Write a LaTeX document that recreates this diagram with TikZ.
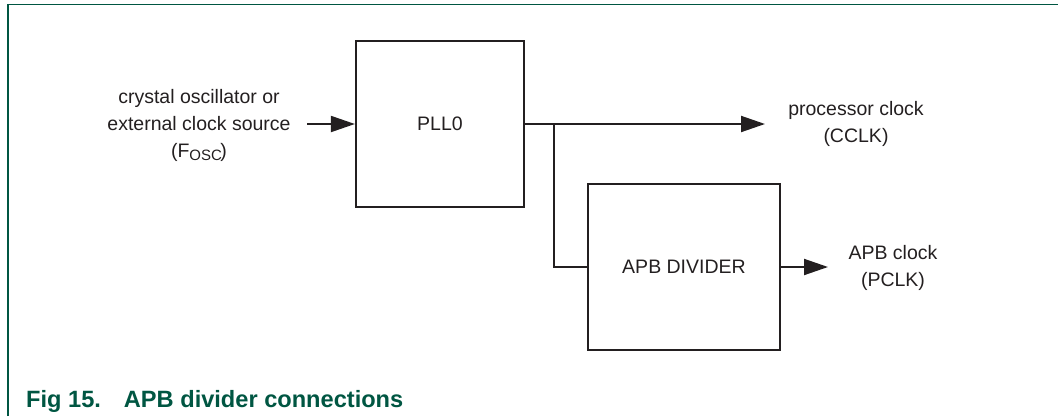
\documentclass[tikz,border=0pt]{standalone}
\usepackage{fontspec}
\setmainfont{Liberation Sans}
\usetikzlibrary{arrows.meta}
\definecolor{ink}{RGB}{35,31,32}
\definecolor{nxpgreen}{RGB}{0,86,66}
\tikzset{
  blockbox/.style={draw=ink, line width=2.2pt, rectangle, inner sep=0pt, text=ink,
    font=\fontsize{19.5}{26}\selectfont},
  wire/.style={draw=ink, line width=2pt},
  arrowwire/.style={wire, -{Triangle[length=24pt,width=16pt]}},
  lbl/.style={text=ink, align=center, inner sep=0pt, font=\fontsize{19.5}{27}\selectfont},
  frameline/.style={draw=nxpgreen, line width=1.8pt},
}
\begin{document}
\begin{tikzpicture}[x=1pt,y=-1pt]
\useasboundingbox (0,0) rectangle (1058,416);
% frame
\draw[frameline] (8,416) -- (8,4.5) -- (1058,4.5);
% blocks
\node[blockbox, minimum width=168pt, minimum height=166pt] (pll) at (440,124) {PLL0};
\node[blockbox, minimum width=192pt, minimum height=166pt] (apb) at (684,267) {APB DIVIDER};
% coordinates
\coordinate (inS) at (307,124);
\coordinate (cclkE) at (765,124);
\coordinate (br) at (554,124);
\coordinate (brD) at (554,267);
\coordinate (pclkE) at (828,267);
% connectors
\draw[arrowwire] (inS) -- (pll.west);
\draw[arrowwire] (pll.east) -- (cclkE);
\draw[wire] (br) -- (brD) -- (apb.west);
\draw[arrowwire] (apb.east) -- (pclkE);
% labels
\node[lbl] (inlbl) at (199,125) {crystal oscillator or\\external clock source\\(F\raisebox{-0.35ex}{\fontsize{15}{15}\selectfont OSC\kern-1.5pt})};
\node[lbl] (cclk) at (856,123.5) {processor clock\\(CCLK)};
\node[lbl] (pclk) at (893,268) {APB clock\\(PCLK)};
% caption
\node[anchor=base west, inner sep=0pt, text=nxpgreen, font=\fontsize{23.6}{23.6}\selectfont\bfseries] (cap) at (26,407) {Fig 15.\hspace{23pt}APB divider connections};
\end{tikzpicture}
\end{document}
